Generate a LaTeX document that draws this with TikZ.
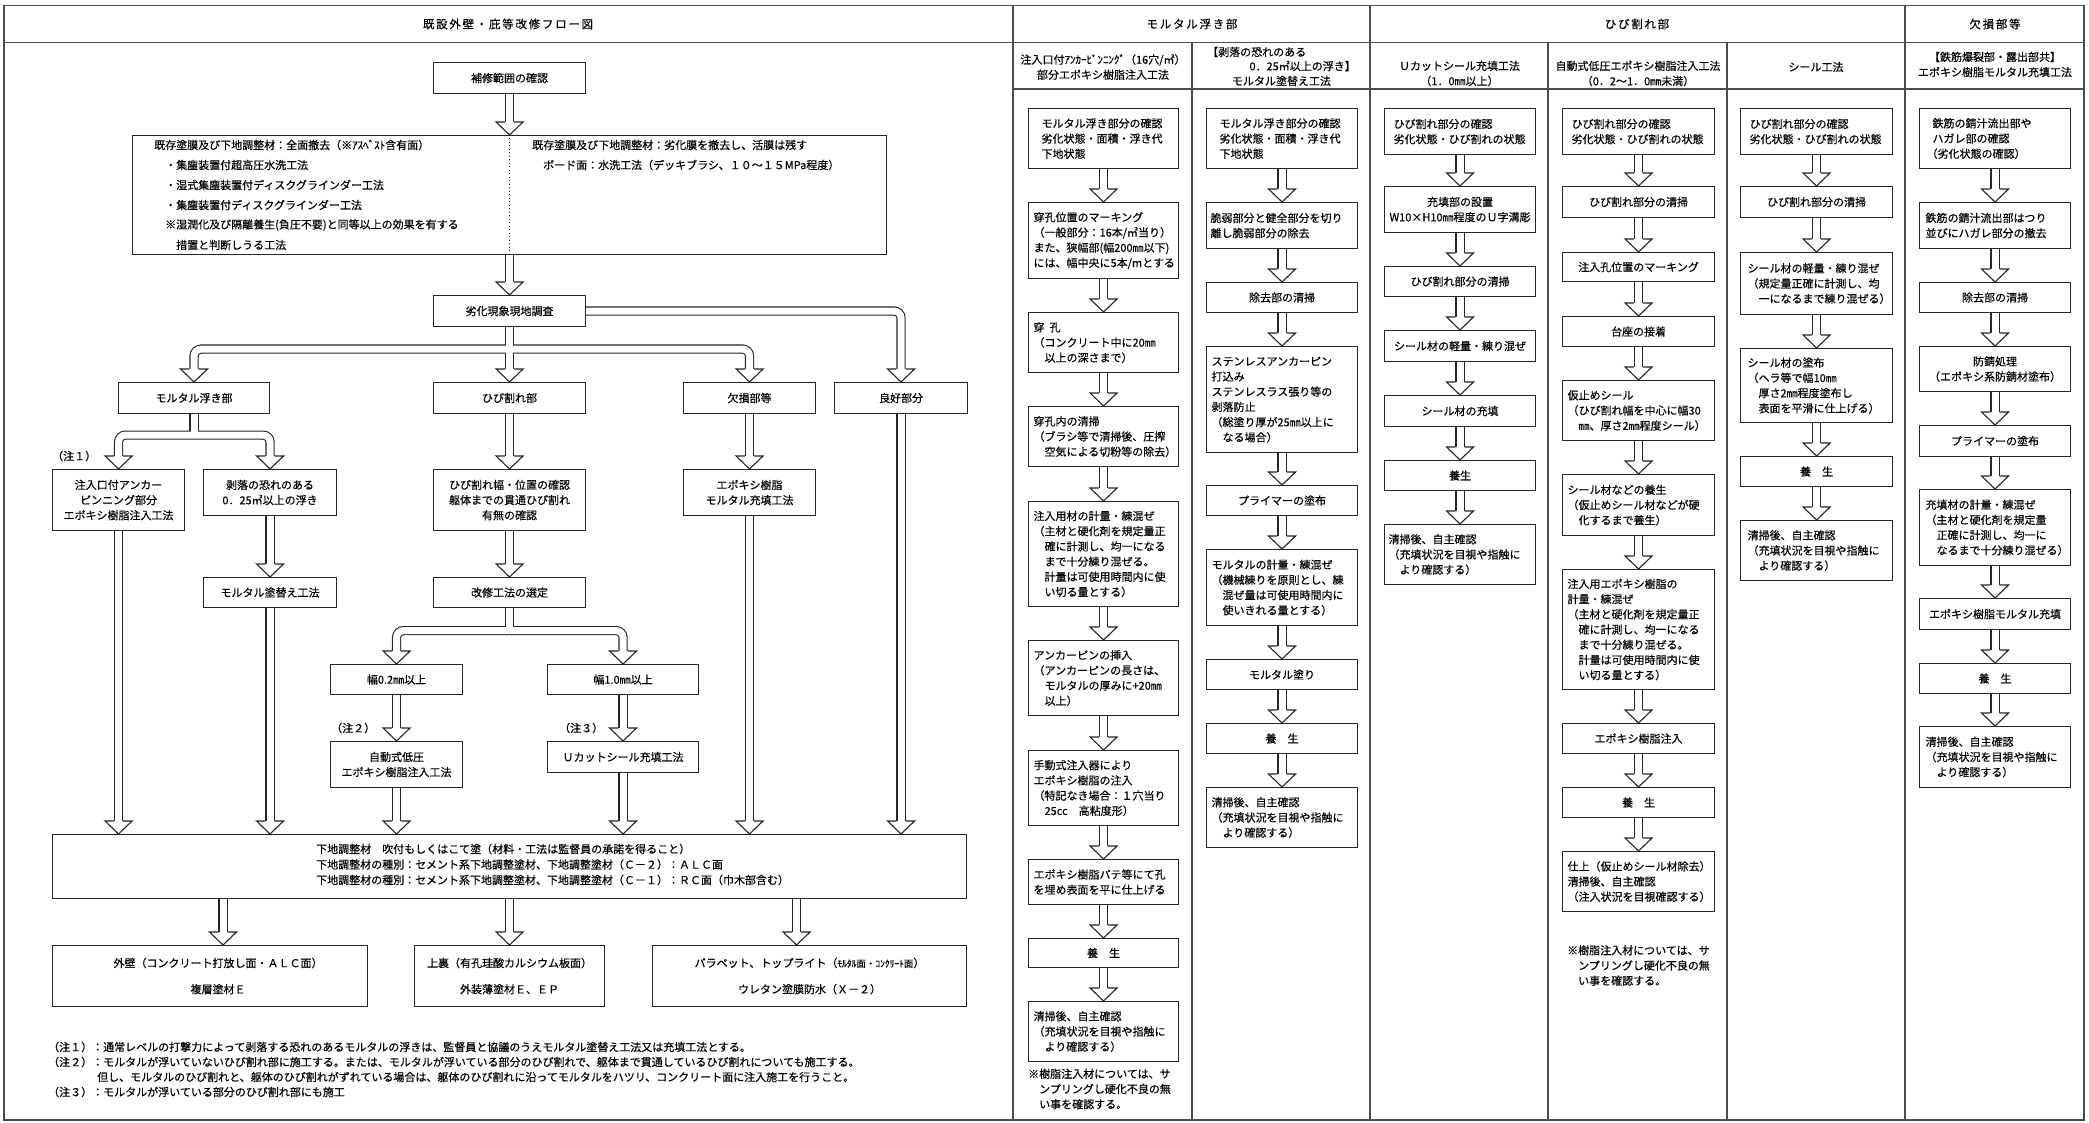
\documentclass[tikz,border=0pt]{standalone}
\usepackage{fontspec}
\setmainfont{Noto Sans CJK JP}[FakeBold=0.35]
\usetikzlibrary{calc}
\pgfdeclarelayer{pb}
\pgfdeclarelayer{pw}
\pgfdeclarelayer{hd}
\pgfsetlayers{pb,pw,hd,main}
\newcommand\fs{\fontsize{11pt}{15.2pt}\selectfont}
\newcommand\pipe[1]{\begin{pgfonlayer}{pb}\draw[pipeB] #1;\end{pgfonlayer}\begin{pgfonlayer}{pw}\draw[pipeW] #1;\end{pgfonlayer}}
\newcommand\ahead[1]{\begin{pgfonlayer}{hd}\fill[white] ($(#1)+(-13.5,-13)$) -- (#1) -- ($(#1)+(13.5,-13)$) -- cycle;\draw[hl] ($(#1)+(-4.6,-13)$) -- ($(#1)+(-13.5,-13)$) -- (#1) -- ($(#1)+(13.5,-13)$) -- ($(#1)+(4.6,-13)$);\end{pgfonlayer}}
\newcommand\varr[2]{\pipe{(#1.south) -- ($(#2.north)+(0,-13)$)}\ahead{#2.north}}
\newcommand\tarr[2]{\pipe{(#1) -- ($(#2)+(0,-13)$)}\ahead{#2}}
\begin{document}
\begin{tikzpicture}[x=1pt,y=-1pt,
 every node/.style={font=\fs, inner sep=0pt},
 bx/.style={draw=black!85, line width=1.1pt, fill=white, anchor=north west, align=center},
 bl/.style={bx, align=left},
 txt/.style={align=left},
 hdr/.style={font=\fontsize{11.5pt}{14pt}\selectfont\addfontfeature{LetterSpace=15}},
 hl/.style={draw=black!85, line width=1.1pt},
 tbl/.style={draw=black!70, line width=1.3pt},
 pipeB/.style={draw=black!85, line width=9.2pt, rounded corners=7pt},
 pipeW/.style={draw=white, line width=7pt, rounded corners=7pt}]
\begin{pgfonlayer}{pb}
\fill[white] (0,0) rectangle (2089,1123);
\end{pgfonlayer}
\useasboundingbox (0,0) rectangle (2089,1123);
% table frame
\draw[tbl] (4,5.5) rectangle (2084,1120);
\draw[tbl] (4,42.5) -- (2084,42.5);
\draw[tbl] (1013,5.5) -- (1013,1120);
\draw[tbl] (1013,89) -- (2084,89);
\draw[tbl] (1192,42.5) -- (1192,1120);
\draw[tbl] (1370,5.5) -- (1370,1120);
\draw[tbl] (1548,42.5) -- (1548,1120);
\draw[tbl] (1727,42.5) -- (1727,1120);
\draw[tbl] (1905,5.5) -- (1905,1120);
% headers
\node[hdr] (t0) at (508,24) {既設外壁・庇等改修フロー図};
\node[hdr] (t1) at (1192,24) {モルタル浮き部};
\node[hdr] (t2) at (1637,24) {ひび割れ部};
\node[hdr] (t3) at (1995,24) {欠損部等};
\node[align=center] (s1) at (1103,67) {注入口付ｱﾝｶｰﾋﾟﾝﾆﾝｸﾞ（16穴/㎡）\\部分エポキシ樹脂注入工法};
\node[anchor=west] (s2a) at (1207,52) {【剥落の恐れのある};
\node[anchor=east] (s2b) at (1356,66) {0．25㎡以上の浮き】};
\node (s2c) at (1281.5,81) {モルタル塗替え工法};
\node[align=center] (s3) at (1459.5,73.5) {Ｕカットシール充填工法\\（1．0㎜以上）};
\node[align=center] (s4) at (1638,73.5) {自動式低圧エポキシ樹脂注入工法\\（0．2～1．0㎜未満）};
\node (s5) at (1816,67) {シール工法};
\node[align=center] (s6) at (1995,64.5) {【鉄筋爆裂部・露出部共】\\エポキシ樹脂モルタル充填工法};

% ===== left flow =====
\node[bx, minimum width=152pt, minimum height=31pt] (hosyu) at (433,62) {補修範囲の確認};
\node[bx, minimum width=754pt, minimum height=119pt] (big) at (132,135) {};
\draw[black!85, line width=1pt, dash pattern=on 1pt off 2.5pt] (big.north) -- (big.south);
\node[anchor=west] (bt1) at (154,145) {既存塗膜及び下地調整材：全面撤去（※ｱｽﾍﾞｽﾄ含有面）};
\node[anchor=west] (bt2) at (154,165) {　・集塵装置付超高圧水洗工法};
\node[anchor=west] (bt3) at (154,185) {　・湿式集塵装置付ディスクグラインダー工法};
\node[anchor=west] (bt4) at (154,205) {　・集塵装置付ディスクグラインダー工法};
\node[anchor=west] (bt5) at (154,225) {　※湿潤化及び隔離養生(負圧不要)と同等以上の効果を有する};
\node[anchor=west] (bt6) at (154,245) {　　措置と判断しうる工法};
\node[anchor=west] (bt7) at (532,145) {既存塗膜及び下地調整材：劣化膜を撤去し、活膜は残す};
\node[anchor=west] (bt8) at (532,165) {　ボード面：水洗工法（デッキブラシ、１０～１５MPa程度）};
\node[bx, minimum width=152pt, minimum height=31pt] (rekka) at (433,295) {劣化現象現地調査};
\node[bx, minimum width=151pt, minimum height=31pt] (mortar) at (118,382) {モルタル浮き部};
\node[bx, minimum width=152pt, minimum height=31pt] (hibi) at (433,382) {ひび割れ部};
\node[bx, minimum width=132pt, minimum height=31pt] (kesson) at (683,382) {欠損部等};
\node[bx, minimum width=133pt, minimum height=31pt] (ryoko) at (834,382) {良好部分};
\node[anchor=west] (n1) at (52,456) {（注１）};
\node[bx, minimum width=132pt, minimum height=61pt] (chu) at (52,469) {注入口付アンカー\\ピンニング部分\\エポキシ樹脂注入工法};
\node[bx, minimum width=133pt, minimum height=46pt] (haku) at (203,469) {剥落の恐れのある\\0．25㎡以上の浮き};
\node[bx, minimum width=152pt, minimum height=61pt] (hibikaku) at (433,469) {ひび割れ幅・位置の確認\\躯体までの貫通ひび割れ\\有無の確認};
\node[bx, minimum width=132pt, minimum height=46pt] (epoxy) at (683,469) {エポキシ樹脂\\モルタル充填工法};
\node[bx, minimum width=133pt, minimum height=30pt] (nurikae) at (203,577) {モルタル塗替え工法};
\node[bx, minimum width=152pt, minimum height=30pt] (kaisyu) at (433,577) {改修工法の選定};
\node[bx, minimum width=132pt, minimum height=30pt] (h02) at (330,664) {幅0.2㎜以上};
\node[bx, minimum width=151pt, minimum height=30pt] (h10) at (547,664) {幅1.0㎜以上};
\node[anchor=west] (n2) at (331,728) {（注２）};
\node[anchor=west] (n3) at (559,728) {（注３）};
\node[bx, minimum width=132pt, minimum height=46pt] (jido) at (330,741) {自動式低圧\\エポキシ樹脂注入工法};
\node[bx, minimum width=151pt, minimum height=31pt] (ucut) at (547,741) {Ｕカットシール充填工法};
\node[bx, minimum width=914pt, minimum height=64pt] (shitaji) at (52,834) {};
\node[anchor=west] (sh1) at (316,849) {下地調整材　吹付もしくはこて塗（材料・工法は監督員の承諾を得ること）};
\node[anchor=west] (sh2) at (316,864.5) {下地調整材の種別：セメント系下地調整塗材、下地調整塗材（Ｃ－２）：ＡＬＣ面};
\node[anchor=west] (sh3) at (316,880) {下地調整材の種別：セメント系下地調整塗材、下地調整塗材（Ｃ－１）：ＲＣ面（巾木部含む）};
\node[bx, minimum width=315pt, minimum height=61pt] (gai) at (52,945) {\hspace*{16pt}外壁（コンクリート打放し面・ＡＬＣ面）\\[11pt]\hspace*{16pt}複層塗材Ｅ};
\node[bx, minimum width=190pt, minimum height=61pt] (uura) at (414,945) {上裏（有孔珪酸カルシウム板面）\\[11pt]外装薄塗材Ｅ、ＥＰ};
\node[bx, minimum width=314pt, minimum height=61pt] (para) at (652,945) {パラペット、トップライト（{\fontsize{9.5pt}{10pt}\selectfont ﾓﾙﾀﾙ面・ｺﾝｸﾘｰﾄ面}）\\[11pt]ウレタン塗膜防水（Ｘ－２）};
\node[anchor=west] (f1) at (48,1047) {（注１）：通常レベルの打撃力によって剥落する恐れのあるモルタルの浮きは、監督員と協議のうえモルタル塗替え工法又は充填工法とする。};
\node[anchor=west] (f2) at (48,1062) {（注２）：モルタルが浮いていないひび割れ部に施工する。または、モルタルが浮いている部分のひび割れで、躯体まで貫通しているひび割れについても施工する。};
\node[anchor=west] (f3) at (97,1077) {但し、モルタルのひび割れと、躯体のひび割れがずれている場合は、躯体のひび割れに沿ってモルタルをハツリ、コンクリート面に注入施工を行うこと。};
\node[anchor=west] (f4) at (48,1092) {（注３）：モルタルが浮いている部分のひび割れ部にも施工};

% left connectors
\varr{hosyu}{big}
\varr{big}{rekka}
\pipe{(rekka.east) -| ($(ryoko.north)+(0,-13)$)}\ahead{ryoko.north}
\varr{rekka}{hibi}
\coordinate (j1) at ($(rekka.south)+(0,22)$);
\pipe{(j1) -| ($(mortar.north)+(0,-13)$)}\ahead{mortar.north}
\pipe{(j1) -| ($(kesson.north)+(0,-13)$)}\ahead{kesson.north}
\coordinate (j2) at ($(mortar.south)+(0,21)$);
\pipe{(mortar.south) -- (j2)}
\pipe{(j2) -| ($(chu.north)+(0,-13)$)}\ahead{chu.north}
\pipe{(j2) -| ($(haku.north)+(0,-13)$)}\ahead{haku.north}
\varr{haku}{nurikae}
\varr{hibi}{hibikaku}
\varr{hibikaku}{kaisyu}
\varr{kesson}{epoxy}
\coordinate (j3) at ($(kaisyu.south)+(0,22.5)$);
\pipe{(kaisyu.south) -- (j3)}
\pipe{(j3) -| ($(h02.north)+(0,-13)$)}\ahead{h02.north}
\pipe{(j3) -| ($(h10.north)+(0,-13)$)}\ahead{h10.north}
\varr{h02}{jido}
\varr{h10}{ucut}
\coordinate (d1) at (chu.south |- shitaji.north);
\coordinate (d2) at (nurikae.south |- shitaji.north);
\coordinate (d3) at (jido.south |- shitaji.north);
\coordinate (d4) at (ucut.south |- shitaji.north);
\coordinate (d5) at (epoxy.south |- shitaji.north);
\coordinate (d6) at (ryoko.south |- shitaji.north);
\tarr{chu.south}{d1}
\tarr{nurikae.south}{d2}
\tarr{jido.south}{d3}
\tarr{ucut.south}{d4}
\tarr{epoxy.south}{d5}
\tarr{ryoko.south}{d6}
\coordinate (e1) at ($(gai.north)+(13,0)$);
\coordinate (e2) at (uura.north);
\coordinate (e3) at ($(para.north)+(-13,0)$);
\coordinate (e1s) at (e1 |- shitaji.south);
\coordinate (e2s) at (e2 |- shitaji.south);
\coordinate (e3s) at (e3 |- shitaji.south);
\tarr{e1s}{e1}
\tarr{e2s}{e2}
\tarr{e3s}{e3}

% ===== column A =====
\node[bl, minimum width=150pt, minimum height=60pt, inner xsep=13pt, text width=124pt] (a1) at (1028,108) {モルタル浮き部分の確認\\劣化状態・面積・浮き代\\下地状態};
\node[bl, minimum width=150pt, minimum height=76pt, inner xsep=5pt, text width=140pt] (a2) at (1028,202) {穿孔位置のマーキング\\（一般部分：16本/㎡当り）\\また、狭幅部(幅200㎜以下)\\には、幅中央に5本/mとする};
\node[bl, minimum width=150pt, minimum height=60pt, inner xsep=5pt, text width=140pt] (a3) at (1028,312) {穿\hspace{5pt}孔\\（コンクリート中に20㎜\\　以上の深さまで）};
\node[bl, minimum width=150pt, minimum height=60pt, inner xsep=5pt, text width=140pt] (a4) at (1028,406) {穿孔内の清掃\\（ブラシ等で清掃後、圧搾\\　空気による切粉等の除去）};
\node[bl, minimum width=150pt, minimum height=105pt, inner xsep=5pt, text width=140pt] (a5) at (1028,501) {注入用材の計量・練混ぜ\\（主材と硬化剤を規定量正\\　確に計測し、均一になる\\　まで十分練り混ぜる。\\　計量は可使用時間内に使\\　い切る量とする）};
\node[bl, minimum width=150pt, minimum height=75pt, inner xsep=5pt, text width=140pt] (a6) at (1028,640) {アンカーピンの挿入\\（アンカーピンの長さは、\\　モルタルの厚みに+20㎜\\　以上）};
\node[bl, minimum width=150pt, minimum height=75pt, inner xsep=5pt, text width=140pt] (a7) at (1028,750) {手動式注入器により\\エポキシ樹脂の注入\\（特記なき場合：１穴当り\\　25cc　高粘度形）};
\node[bl, minimum width=150pt, minimum height=45pt, inner xsep=5pt, text width=140pt] (a8) at (1028,859) {エポキシ樹脂パテ等にて孔\\を埋め表面を平に仕上げる};
\node[bx, minimum width=150pt, minimum height=29pt] (a9) at (1028,938) {養　生};
\node[bl, minimum width=150pt, minimum height=60pt, inner xsep=5pt, text width=140pt] (a10) at (1028,1001) {清掃後、自主確認\\（充填状況を目視や指触に\\　より確認する）};
\node[txt, anchor=west] (na) at (1028,1089) {※樹脂注入材については、サ\\　ンプリングし硬化不良の無\\　い事を確認する。};
\varr{a1}{a2}\varr{a2}{a3}\varr{a3}{a4}\varr{a4}{a5}\varr{a5}{a6}
\varr{a6}{a7}\varr{a7}{a8}\varr{a8}{a9}\varr{a9}{a10}

% ===== column B =====
\node[bl, minimum width=151pt, minimum height=60pt, inner xsep=13pt, text width=125pt] (b1) at (1206,108) {モルタル浮き部分の確認\\劣化状態・面積・浮き代\\下地状態};
\node[bl, minimum width=151pt, minimum height=46pt, inner xsep=4pt, text width=143pt] (b2) at (1206,202) {脆弱部分と健全部分を切り\\離し脆弱部分の除去};
\node[bx, minimum width=151pt, minimum height=30pt] (b3) at (1206,282) {除去部の清掃};
\node[bl, minimum width=151pt, minimum height=106pt, inner xsep=5pt, text width=141pt] (b4) at (1206,346) {ステンレスアンカーピン\\打込み\\ステンレスラス張り等の\\剥落防止\\（総塗り厚が25㎜以上に\\　なる場合）};
\node[bx, minimum width=151pt, minimum height=30pt] (b5) at (1206,485) {プライマーの塗布};
\node[bl, minimum width=151pt, minimum height=76pt, inner xsep=5pt, text width=141pt] (b6) at (1206,549) {モルタルの計量・練混ぜ\\（機械練りを原則とし、練\\　混ぜ量は可使用時間内に\\　使いきれる量とする）};
\node[bx, minimum width=151pt, minimum height=30pt] (b7) at (1206,659) {モルタル塗り};
\node[bx, minimum width=151pt, minimum height=30pt] (b8) at (1206,723) {養　生};
\node[bl, minimum width=151pt, minimum height=60pt, inner xsep=5pt, text width=141pt] (b9) at (1206,787) {清掃後、自主確認\\（充填状況を目視や指触に\\　より確認する）};
\varr{b1}{b2}\varr{b2}{b3}\varr{b3}{b4}\varr{b4}{b5}\varr{b5}{b6}
\varr{b6}{b7}\varr{b7}{b8}\varr{b8}{b9}

% ===== column C =====
\node[bl, minimum width=151pt, minimum height=46pt, inner xsep=9pt, text width=133pt] (c1) at (1384,108) {ひび割れ部分の確認\\劣化状態・ひび割れの状態};
\node[bx, minimum width=151pt, minimum height=46pt] (c2) at (1384,186) {充填部の設置\\W10×H10㎜程度のＵ字溝彫};
\node[bx, minimum width=151pt, minimum height=30pt] (c3) at (1384,266) {ひび割れ部分の清掃};
\node[bx, minimum width=151pt, minimum height=31pt] (c4) at (1384,330) {シール材の軽量・練り混ぜ};
\node[bx, minimum width=151pt, minimum height=31pt] (c5) at (1384,395) {シール材の充填};
\node[bx, minimum width=151pt, minimum height=30pt] (c6) at (1384,460) {養生};
\node[bl, minimum width=151pt, minimum height=60pt, inner xsep=4pt, text width=143pt] (c7) at (1384,524) {清掃後、自主確認\\（充填状況を目視や指触に\\　より確認する）};
\varr{c1}{c2}\varr{c2}{c3}\varr{c3}{c4}\varr{c4}{c5}\varr{c5}{c6}\varr{c6}{c7}

% ===== column D =====
\node[bl, minimum width=152pt, minimum height=46pt, inner xsep=9pt, text width=134pt] (d1b) at (1562,108) {ひび割れ部分の確認\\劣化状態・ひび割れの状態};
\node[bx, minimum width=152pt, minimum height=31pt] (d2b) at (1562,186) {ひび割れ部分の清掃};
\node[bx, minimum width=152pt, minimum height=29pt] (d3b) at (1562,252) {注入孔位置のマーキング};
\node[bx, minimum width=152pt, minimum height=30pt] (d4b) at (1562,316) {台座の接着};
\node[bl, minimum width=152pt, minimum height=60pt, inner xsep=5pt, text width=142pt] (d5b) at (1562,380) {仮止めシール\\（ひび割れ幅を中心に幅30\\　㎜、厚さ2㎜程度シール）};
\node[bl, minimum width=152pt, minimum height=61pt, inner xsep=5pt, text width=142pt] (d6b) at (1562,474) {シール材などの養生\\（仮止めシール材などが硬\\　化するまで養生）};
\node[bl, minimum width=152pt, minimum height=120pt, inner xsep=5pt, text width=142pt] (d7b) at (1562,569) {注入用エポキシ樹脂の\\計量・練混ぜ\\（主材と硬化剤を規定量正\\　確に計測し、均一になる\\　まで十分練り混ぜる。\\　計量は可使用時間内に使\\　い切る量とする）};
\node[bx, minimum width=152pt, minimum height=30pt] (d8b) at (1562,723) {エポキシ樹脂注入};
\node[bx, minimum width=152pt, minimum height=30pt] (d9b) at (1562,787) {養　生};
\node[bl, minimum width=152pt, minimum height=60pt, inner xsep=5pt, text width=142pt] (d10b) at (1562,851) {仕上（仮止めシール材除去）\\清掃後、自主確認\\（注入状況を目視確認する）};
\node[txt, anchor=west] (nd) at (1567,965.5) {※樹脂注入材については、サ\\　ンプリングし硬化不良の無\\　い事を確認する。};
\varr{d1b}{d2b}\varr{d2b}{d3b}\varr{d3b}{d4b}\varr{d4b}{d5b}\varr{d5b}{d6b}
\varr{d6b}{d7b}\varr{d7b}{d8b}\varr{d8b}{d9b}\varr{d9b}{d10b}

% ===== column E =====
\node[bl, minimum width=152pt, minimum height=46pt, inner xsep=9pt, text width=134pt] (e1b) at (1740,108) {ひび割れ部分の確認\\劣化状態・ひび割れの状態};
\node[bx, minimum width=152pt, minimum height=31pt] (e2b) at (1740,186) {ひび割れ部分の清掃};
\node[bl, minimum width=152pt, minimum height=62pt, inner xsep=7pt, text width=138pt] (e3b) at (1740,252) {シール材の軽量・練り混ぜ\\（規定量正確に計測し、均\\　一になるまで練り混ぜる）};
\node[bl, minimum width=152pt, minimum height=74pt, inner xsep=7pt, text width=138pt] (e4b) at (1740,348) {シール材の塗布\\（ヘラ等で幅10㎜\\　厚さ2㎜程度塗布し\\　表面を平滑に仕上げる）};
\node[bx, minimum width=152pt, minimum height=30pt] (e5b) at (1740,456) {養　生};
\node[bl, minimum width=152pt, minimum height=60pt, inner xsep=7pt, text width=138pt] (e6b) at (1740,520) {清掃後、自主確認\\（充填状況を目視や指触に\\　より確認する）};
\varr{e1b}{e2b}\varr{e2b}{e3b}\varr{e3b}{e4b}\varr{e4b}{e5b}\varr{e5b}{e6b}

% ===== column F =====
\node[bl, minimum width=151pt, minimum height=60pt, inner xsep=13pt, text width=125pt] (f1b) at (1919,108) {鉄筋の錆汁流出部や\\ハガレ部の確認\\\hspace*{-6pt}（劣化状態の確認）};
\node[bl, minimum width=151pt, minimum height=46pt, inner xsep=6pt, text width=139pt] (f2b) at (1919,202) {鉄筋の錆汁流出部はつり\\並びにハガレ部分の撤去};
\node[bx, minimum width=151pt, minimum height=30pt] (f3b) at (1919,282) {除去部の清掃};
\node[bx, minimum width=151pt, minimum height=45pt] (f4b) at (1919,346) {防錆処理\\（エポキシ系防錆材塗布）};
\node[bx, minimum width=151pt, minimum height=31pt] (f5b) at (1919,425) {プライマーの塗布};
\node[bl, minimum width=151pt, minimum height=76pt, inner xsep=6pt, text width=139pt] (f6b) at (1919,489) {充填材の計量・練混ぜ\\（主材と硬化剤を規定量\\　正確に計測し、均一に\\　なるまで十分練り混ぜる）};
\node[bx, minimum width=151pt, minimum height=31pt] (f7b) at (1919,598) {エポキシ樹脂モルタル充填};
\node[bx, minimum width=151pt, minimum height=30pt] (f8b) at (1919,663) {養　生};
\node[bl, minimum width=151pt, minimum height=61pt, inner xsep=6pt, text width=139pt] (f9b) at (1919,726) {清掃後、自主確認\\（充填状況を目視や指触に\\　より確認する）};
\varr{f1b}{f2b}\varr{f2b}{f3b}\varr{f3b}{f4b}\varr{f4b}{f5b}\varr{f5b}{f6b}
\varr{f6b}{f7b}\varr{f7b}{f8b}\varr{f8b}{f9b}
\end{tikzpicture}
\end{document}
